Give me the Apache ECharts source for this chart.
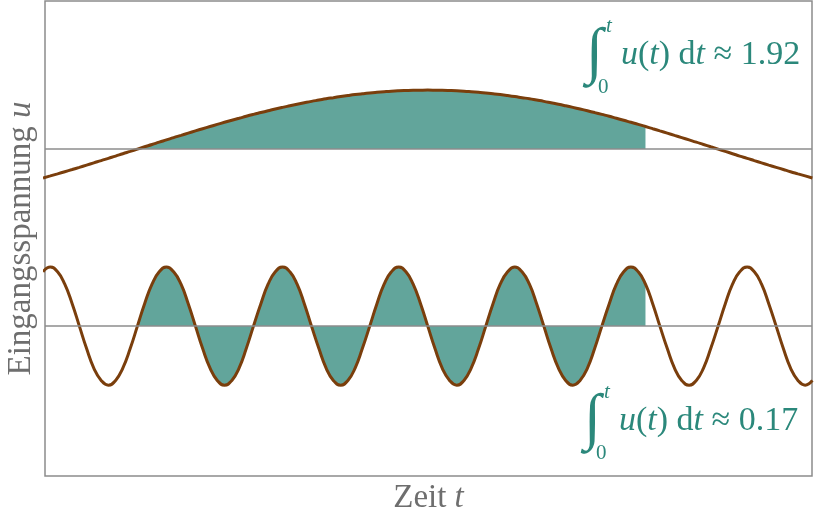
<!DOCTYPE html>
<html>
<head>
<meta charset="utf-8">
<script src="https://cdn.jsdelivr.net/npm/echarts@6/dist/echarts.min.js"></script>
<style>
html,body{margin:0;padding:0;background:#fff;}
#chart{width:815px;height:513px;}
</style>
</head>
<body>
<div id="chart"></div>
<script>
// Zeit t (x values)
const time = [-0.511,-0.471,-0.432,-0.393,-0.353,-0.314,-0.275,-0.236,-0.196,-0.157,-0.118,-0.079,-0.039,
  0,0.039,0.079,0.118,0.157,0.196,0.236,0.275,0.314,0.353,0.393,0.432,0.471,0.511,0.550,0.589,0.628,0.668,0.707,0.746,
  0.785,0.825,0.864,0.903,0.942,0.982,1.021,1.060,1.100,1.139,1.178,1.217,1.257,1.296,1.335,1.374,1.414,1.453,1.492,1.532,
  1.571,1.610,1.649,1.689,1.728,1.767,1.806,1.846,1.885,1.924,1.963,2.003,2.042,2.081,2.121,2.160,2.199,2.238,2.278,2.317,
  2.356,2.395,2.435,2.474,2.513,2.553,2.592,2.631,2.670,2.710,2.749,2.788,2.827,2.867,2.906,2.945,2.985,3.024,3.063,3.102,
  3.142,3.181,3.220,3.259,3.299,3.338,3.377,3.416,3.456,3.495,3.534,3.574,3.613,3.652];
// slow input signal (upper curve)
const slowWave = [-0.489,-0.454,-0.419,-0.383,-0.346,-0.309,-0.271,-0.233,-0.195,-0.156,-0.118,-0.078,-0.039,
  0,0.039,0.078,0.118,0.156,0.195,0.233,0.271,0.309,0.346,0.383,0.419,0.454,0.489,0.522,0.556,0.588,0.619,0.649,0.679,
  0.707,0.734,0.760,0.785,0.809,0.831,0.853,0.872,0.891,0.908,0.924,0.938,0.951,0.962,0.972,0.981,0.988,0.993,0.997,0.999,
  1.000,0.999,0.997,0.993,0.988,0.981,0.972,0.962,0.951,0.938,0.924,0.908,0.891,0.872,0.853,0.831,0.809,0.785,0.760,0.734,
  0.707,0.679,0.649,0.619,0.588,0.556,0.522,0.489,0.454,0.419,0.383,0.346,0.309,0.271,0.233,0.195,0.156,0.118,0.078,0.039,
  0,-0.039,-0.078,-0.118,-0.156,-0.195,-0.233,-0.271,-0.309,-0.346,-0.383,-0.419,-0.454,-0.489];
// fast input signal (lower curve)
const fastWave = [0.92,1,0.92,0.71,0.38,0,-0.38,-0.71,-0.92,-1,-0.92,-0.71,-0.38,
  0,0.38,0.71,0.92,1,0.92,0.71,0.38,0,-0.38,-0.71,-0.92,-1,-0.92,-0.71,-0.38,
  0,0.38,0.71,0.92,1,0.92,0.71,0.38,0,-0.38,-0.71,-0.92,-1,-0.92,-0.71,-0.38,
  0,0.38,0.71,0.92,1,0.92,0.71,0.38,0,-0.38,-0.71,-0.92,-1,-0.92,-0.71,-0.38,
  0,0.38,0.71,0.92,1,0.92,0.71,0.38,0,-0.38,-0.71,-0.92,-1,-0.92,-0.71,-0.38,
  0,0.38,0.71,0.92,1,0.92,0.71,0.38,0,-0.38,-0.71,-0.92,-1,-0.92,-0.71,-0.38,
  0,0.38,0.71,0.92,1,0.92,0.71,0.38,0,-0.38,-0.71,-0.92,-1,-0.92];
// integration interval
const integralFrom = 0;
const integralTo = 2.749;
// sign markers (t positions)
const plusT = [0.157,0.785,1.414,2.042,2.670];
const minusT = [0.471,1.100,1.728,2.356];
const topPlusT = [1.571];
const plusU = 0.49, minusU = -0.46;
const results = ['1.92','0.17'];

const BROWN = '#7a3e0c';
const TEAL = '#62a59b';
const TEXT_TEAL = '#2b887b';
const GRAY = '#8c8c8c';
const LABEL_GRAY = '#6e6e6e';
const SERIF = 'Liberation Serif';

const pairs = (ys) => time.map((t,i)=>[t, ys[i]]);
const inInterval = (ys) => pairs(ys).filter(p => p[0] >= integralFrom - 1e-9 && p[0] <= integralTo + 1e-9);

const chart = echarts.init(document.getElementById('chart'), null, {renderer:'canvas'});

function integralGroup(x, yMid, value) {
  return {
    type: 'group',
    children: [
      {type:'text', x: x, y: yMid, style:{text:'∫', fontFamily: SERIF, fontSize: 62, fill: TEXT_TEAL, align:'left', verticalAlign:'middle'}},
      {type:'text', x: x + 20, y: yMid - 29, style:{text:'t', fontFamily: SERIF, fontStyle:'italic', fontSize: 21, fill: TEXT_TEAL, align:'left', verticalAlign:'middle'}},
      {type:'text', x: x + 12, y: yMid + 32, style:{text:'0', fontFamily: SERIF, fontSize: 21, fill: TEXT_TEAL, align:'left', verticalAlign:'middle'}},
      {type:'text', x: x + 35, y: yMid, style:{
        text:'{i|u}({i|t}) d{i|t} ≈ ' + value, fontFamily: SERIF, fontSize: 34, fill: TEXT_TEAL, align:'left', verticalAlign:'middle',
        rich:{ i:{fontFamily: SERIF, fontStyle:'italic', fontSize:34, fill: TEXT_TEAL} }
      }}
    ]
  };
}

const option = {
  animation: false,
  backgroundColor: '#fff',
  grid: {left:45, top:1, right:3, bottom:37, outerBoundsMode:'none', containLabel:false,
    show:true, borderColor: GRAY, borderWidth: 1.5, backgroundColor:'transparent'},
  xAxis: {
    type:'value', min:-0.5, max:3.65,
    axisLine:{show:false}, axisTick:{show:false}, axisLabel:{show:false}, splitLine:{show:false},
    name:'Zeit {i|t}', nameLocation:'middle', nameGap: 6,
    nameTextStyle:{fontFamily:SERIF, fontSize:33, color:LABEL_GRAY, verticalAlign:'top',
      rich:{i:{fontFamily:SERIF, fontStyle:'italic', fontSize:33, color:LABEL_GRAY}}}
  },
  yAxis: [
    {type:'value', min:-2.54, max:5.51,
     axisLine:{show:false}, axisTick:{show:false}, axisLabel:{show:false}, splitLine:{show:false},
     name:'Eingangsspannung {i|u}', nameLocation:'middle', nameGap: 7, nameRotate: 90,
     nameTextStyle:{fontFamily:SERIF, fontSize:33, color:LABEL_GRAY,
       rich:{i:{fontFamily:SERIF, fontStyle:'italic', fontSize:33, color:LABEL_GRAY}}}},
    {type:'value', min:-5.54, max:2.51, show:false}
  ],
  series: [
    {type:'line', yAxisIndex:1, data: inInterval(slowWave), smooth:true, symbol:'none',
     lineStyle:{width:0}, areaStyle:{color:TEAL, opacity:1}, z:1, silent:true},
    {type:'line', yAxisIndex:0, data: inInterval(fastWave), smooth:true, symbol:'none',
     lineStyle:{width:0}, areaStyle:{color:TEAL, opacity:1}, z:1, silent:true},
    {type:'line', yAxisIndex:1, data: pairs(slowWave), smooth:true, symbol:'none',
     lineStyle:{color:BROWN, width:3}, z:3, silent:true,
     markLine:{silent:true, symbol:'none', label:{show:false}, lineStyle:{color:GRAY, width:1.5, type:'solid'}, data:[{yAxis:0}]}},
    {type:'line', yAxisIndex:0, data: pairs(fastWave), smooth:true, symbol:'none',
     lineStyle:{color:BROWN, width:3}, z:3, silent:true,
     markLine:{silent:true, symbol:'none', label:{show:false}, lineStyle:{color:GRAY, width:1.5, type:'solid'}, data:[{yAxis:0}]}},
    {type:'scatter', yAxisIndex:0, symbolSize:1, itemStyle:{opacity:0}, z:5, silent:true,
     data: plusT.map(t=>({value:[t, plusU], name:'+'})).concat(minusT.map(t=>({value:[t, minusU], name:'−'}))),
     label:{show:true, position:'inside', formatter: p => p.name, color:'#fff', fontFamily:SERIF, fontSize:30}},
    {type:'scatter', yAxisIndex:1, symbolSize:1, itemStyle:{opacity:0}, z:5, silent:true,
     data: topPlusT.map(t=>({value:[t, plusU], name:'+'})),
     label:{show:true, position:'inside', formatter: p => p.name, color:'#fff', fontFamily:SERIF, fontSize:30}}
  ],
  graphic: [
    integralGroup(586, 55, results[0]),
    integralGroup(584, 421, results[1])
  ]
};
chart.setOption(option);
</script>
</body>
</html>
